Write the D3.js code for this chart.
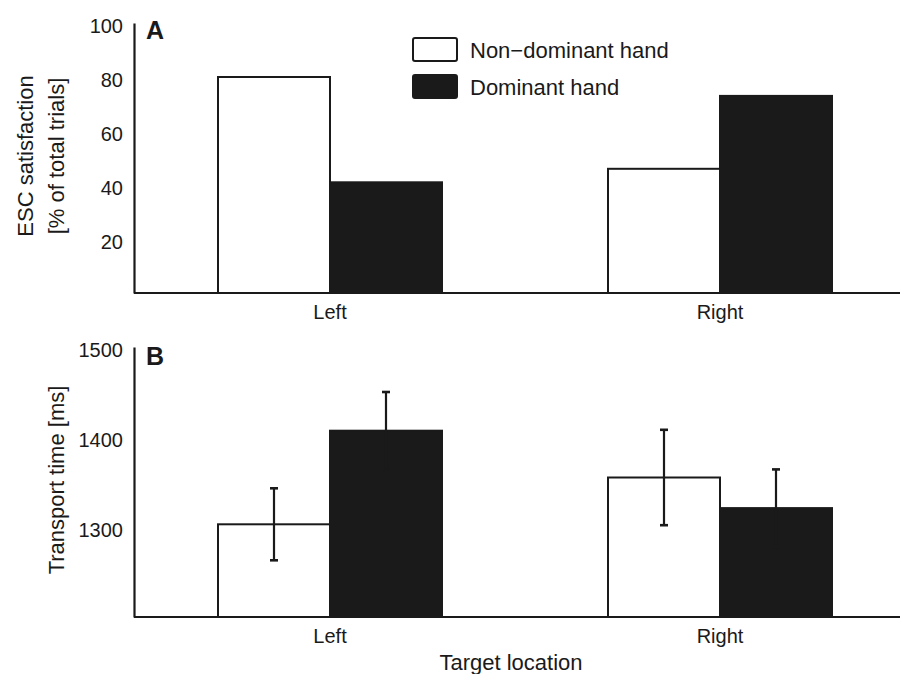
<!DOCTYPE html>
<html>
<head>
<meta charset="utf-8">
<script src="https://cdn.jsdelivr.net/npm/d3@7"></script>
<style>
  body { margin: 0; background: #fff; }
  svg text { font-family: "Liberation Sans", Arial, Helvetica, sans-serif; fill: #1a1a1a; }
</style>
</head>
<body>
<script>
// data
var categories = ["Left", "Right"];
var seriesNames = ["Non\u2212dominant hand", "Dominant hand"];
var escNonDom = [80, 46];
var escDom = [41, 73];
var timeNonDom = [1303, 1355];
var timeDom = [1407, 1321];
var errNonDom = [40, 53];
var errDom = [43, 43];
var ticksA = [20, 40, 60, 80, 100];
var ticksB = [1300, 1400, 1500];

var width = 908, height = 674;
var ink = "#1a1a1a";

var svg = d3.select("body").append("svg")
    .attr("width", width)
    .attr("height", height);

var left = 134, right = 900;

var x0 = d3.scaleBand()
    .domain(categories)
    .range([135, 915]);

var x1 = d3.scaleBand()
    .domain(seriesNames)
    .range([-112, 112]);

var fills = d3.scaleOrdinal()
    .domain(seriesNames)
    .range(["#fff", ink]);

function panel(yScale, ticks, nonDom, dom, errs, letter, letterY, titleLines, titleX) {
    var g = svg.append("g");
    var base = yScale.range()[0];

    // y axis
    var yAxis = d3.axisLeft(yScale)
        .tickValues(ticks)
        .tickFormat(d3.format("d"))
        .tickSize(0)
        .tickSizeOuter(0)
        .tickPadding(11);
    var ya = g.append("g")
        .attr("transform", "translate(" + left + ",0)")
        .call(yAxis);
    ya.select(".domain").attr("stroke", ink).attr("stroke-width", 2.2);
    ya.selectAll("text")
        .attr("dy", "0.47em")
        .style("font-size", "20px")
        .style("fill", ink);

    // rows of bars
    var rows = categories.map(function(c, i) {
        return [
            { cat: c, s: seriesNames[0], v: nonDom[i], e: errs ? errs[0][i] : null },
            { cat: c, s: seriesNames[1], v: dom[i], e: errs ? errs[1][i] : null }
        ];
    });
    var flat = [].concat.apply([], rows);

    g.selectAll("rect.bar")
        .data(flat)
        .enter().append("rect")
        .attr("class", "bar")
        .attr("x", function(d) { return x0(d.cat) + x0.bandwidth() / 2 + x1(d.s); })
        .attr("width", x1.bandwidth())
        .attr("y", function(d) { return yScale(d.v); })
        .attr("height", function(d) { return base - yScale(d.v); })
        .attr("fill", function(d) { return fills(d.s); })
        .attr("stroke", ink)
        .attr("stroke-width", 2);

    // x axis baseline
    g.append("line")
        .attr("x1", left).attr("x2", right)
        .attr("y1", base).attr("y2", base)
        .attr("stroke", ink)
        .attr("stroke-width", 2.2);

    var xAxis = d3.axisBottom(x0).tickSize(0).tickPadding(12);
    var xa = g.append("g")
        .attr("transform", "translate(0," + base + ")")
        .call(xAxis);
    xa.select(".domain").remove();
    xa.selectAll("text").style("font-size", "20px").style("fill", ink);

    // error bars
    if (errs) {
        var eb = g.selectAll("g.err")
            .data(flat)
            .enter().append("g")
            .attr("class", "err")
            .attr("transform", function(d) {
                return "translate(" + (x0(d.cat) + x0.bandwidth() / 2 + x1(d.s) + x1.bandwidth() / 2) + ",0)";
            });
        eb.append("line")
            .attr("y1", function(d) { return yScale(d.v - d.e); })
            .attr("y2", function(d) { return yScale(d.v + d.e); })
            .attr("stroke", ink).attr("stroke-width", 2.2);
        eb.append("line")
            .attr("x1", -4).attr("x2", 4)
            .attr("y1", function(d) { return yScale(d.v + d.e); })
            .attr("y2", function(d) { return yScale(d.v + d.e); })
            .attr("stroke", ink).attr("stroke-width", 2.6);
        eb.append("line")
            .attr("x1", -4).attr("x2", 4)
            .attr("y1", function(d) { return yScale(d.v - d.e); })
            .attr("y2", function(d) { return yScale(d.v - d.e); })
            .attr("stroke", ink).attr("stroke-width", 2.6);
    }

    // panel letter
    g.append("text")
        .attr("x", 146)
        .attr("y", letterY)
        .style("font-size", "25px")
        .style("font-weight", "bold")
        .text(letter);

    // y title
    var cy = (yScale.range()[0] + yScale.range()[1]) / 2 - 2;
    titleLines.forEach(function(t, i) {
        g.append("text")
            .attr("transform", "translate(" + titleX[i] + "," + cy + ") rotate(-90)")
            .attr("text-anchor", "middle")
            .style("font-size", "22px")
            .text(t);
    });
}

var yA = d3.scaleLinear().domain([0, 100]).range([293, 23]);
var yB = d3.scaleLinear().domain([1200, 1500]).range([617, 347]);

panel(yA, ticksA, escNonDom, escDom, null, "A", 39,
      ["ESC satisfaction", "[% of total trials]"], [33, 64]);
panel(yB, ticksB, timeNonDom, timeDom, [errNonDom, errDom], "B", 365,
      ["Transport time [ms]"], [64]);

// x title
svg.append("text")
    .attr("x", 511)
    .attr("y", 670)
    .attr("text-anchor", "middle")
    .style("font-size", "22px")
    .text("Target location");

// legend
var legend = svg.append("g")
    .selectAll("g")
    .data(seriesNames)
    .enter().append("g")
    .attr("transform", function(d, i) { return "translate(413," + (38 + i * 37) + ")"; });

legend.append("rect")
    .attr("width", 44)
    .attr("height", 23)
    .attr("rx", 2)
    .attr("fill", function(d) { return fills(d); })
    .attr("stroke", ink)
    .attr("stroke-width", 2);

legend.append("text")
    .attr("x", 57)
    .attr("y", 20)
    .style("font-size", "22px")
    .text(function(d) { return d; });
</script>
</body>
</html>
